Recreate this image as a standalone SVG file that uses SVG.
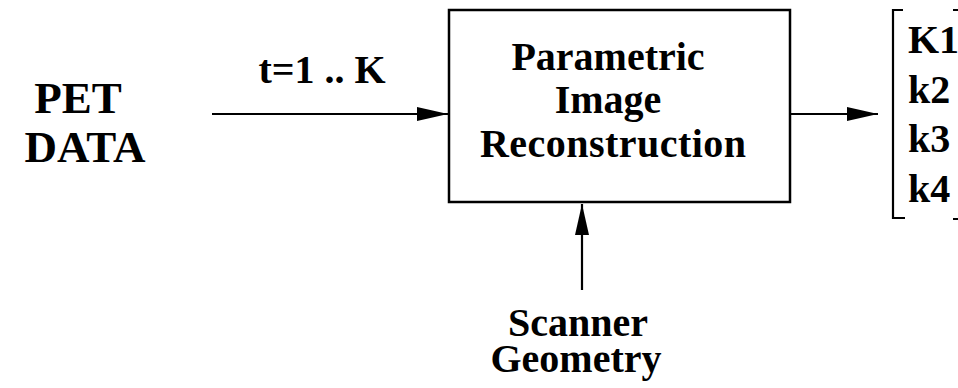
<svg xmlns="http://www.w3.org/2000/svg" width="958" height="388" viewBox="0 0 958 388">
<style>
text{font-family:"Liberation Serif","Times New Roman",serif;font-weight:bold;font-size:40px;fill:#000}
.big{font-size:45px}
.ln{stroke:#000;stroke-width:2.2;fill:none}
.bx{stroke:#000;stroke-width:2.5;fill:#fff}
</style>
<defs>
<marker id="ah" markerUnits="userSpaceOnUse" markerWidth="32" markerHeight="16" refX="31" refY="7" orient="auto">
<path d="M0,0 L31,7 L0,14 Z" fill="#000"/>
</marker>
</defs>
<rect width="958" height="388" fill="#fff"/>
<g id="connectors">
<line class="ln" x1="212" y1="114" x2="448" y2="114" marker-end="url(#ah)"/>
<line class="ln" x1="790" y1="114" x2="878" y2="114" marker-end="url(#ah)"/>
<line class="ln" x1="582" y1="290" x2="582" y2="204" marker-end="url(#ah)"/>
</g>
<g id="pet-data">
<text class="big" x="78" y="113" text-anchor="middle">PET</text>
<text class="big" x="85" y="162" text-anchor="middle">DATA</text>
</g>
<g id="t-label">
<text x="322" y="83" text-anchor="middle">t=1 .. K</text>
</g>
<g id="reconstruction">
<rect class="bx" x="449" y="10" width="341" height="192"/>
<text x="608" y="70" text-anchor="middle">Parametric</text>
<text x="608" y="113" text-anchor="middle">Image</text>
<text x="613" y="157" text-anchor="middle" textLength="266">Reconstruction</text>
</g>
<g id="scanner-geometry">
<text x="578" y="336" text-anchor="middle">Scanner</text>
<text x="576" y="372" text-anchor="middle">Geometry</text>
</g>
<g id="parameters">
<path class="ln" d="M903,10 H893 V218 H905"/>
<path class="ln" d="M953,10 H960 M953,219 H960"/>
<text x="908" y="53">K1</text>
<text x="908" y="103">k2</text>
<text x="908" y="152">k3</text>
<text x="908" y="202">k4</text>
</g>
</svg>
